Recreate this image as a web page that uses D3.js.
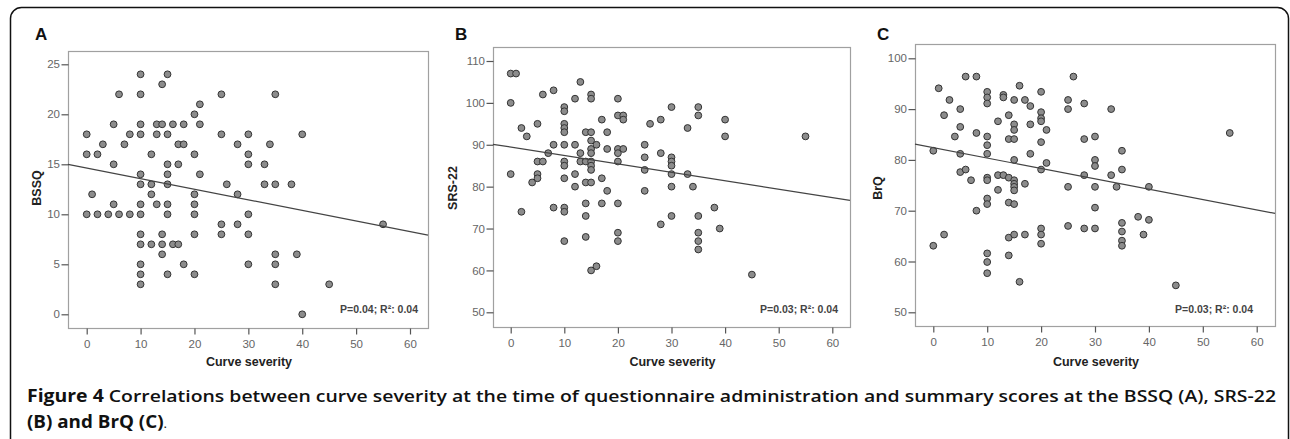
<!DOCTYPE html>
<html>
<head>
<meta charset="utf-8">
<script src="https://cdn.jsdelivr.net/npm/d3@7"></script>
<style>
  body { margin: 0; background: #fff; }
  svg { display: block; }
</style>
</head>
<body>
<div id="fig"></div>
<script>
var svgWidth = 1290;
var svgHeight = 439;

// curve severity (x) and scores (y)
var bssqX = [10,15,14,6,10,25,35,21,20,5,10,13,14,16,18,21,0,8,10,13,15,25,30,40,3,7,17,18,28,34,
  0,2,12,20,30,5,15,17,30,33,10,15,21,10,12,15,26,33,35,38,1,12,20,28,5,10,13,15,20,
  0,2,4,6,8,10,15,20,30,25,28,55,10,14,20,25,30,10,12,14,16,17,14,35,39,10,18,30,35,10,15,20,35,10,45,40];
var bssqY = [24,24,23,22,22,22,22,21,20,19,19,19,19,19,19,19,18,18,18,18,18,18,18,18,17,17,17,17,17,17,
  16,16,16,16,16,15,15,15,15,15,14,14,14,13,13,13,13,13,13,13,12,12,12,12,11,11,11,11,11,
  10,10,10,10,10,10,10,10,10,9,9,9,8,8,8,8,8,7,7,7,7,7,6,6,6,5,5,5,5,4,4,4,3,3,3,0];

var srsX = [0,1,0,2,3,0,5,5,6,4,5,5,6,8,7,8,10,10,10,10,10,10,10,10,10,12,12,12,12,13,13,13,14,14,14,
  15,15,15,15,15,15,15,15,15,15,16,17,17,18,18,18,20,20,21,21,20,20,20,21,25,25,25,25,26,28,28,
  30,30,30,30,30,30,33,33,34,35,35,40,40,55,
  2,8,10,10,14,17,20,14,10,14,15,16,20,20,28,30,35,35,35,35,38,39,45];
var srsY = [107,107,100,94,92,83,95,86,86,81,83,82,102,103,88,90,99,98,95,94,93,90,86,85,82,101,90,83,80,105,88,86,93,86,81,
  102,101,93,91,89,88,86,85,84,81,90,96,82,93,89,79,101,97,97,96,89,88,86,89,90,87,84,79,95,96,88,
  99,87,86,85,83,80,94,83,80,99,97,96,92,92,
  74,75,75,74,76,76,76,73,67,68,60,61,69,67,71,73,73,69,67,65,75,70,59];

var brqX = [0,1,2,3,4,5,5,5,5,6,6,7,8,8,8,10,10,10,10,10,10,10,10,10,10,12,12,12,13,13,13,14,14,14,14,
  15,15,15,15,15,15,15,15,15,15,16,17,17,18,18,18,20,20,20,20,20,20,21,21,25,25,25,26,28,28,28,
  30,30,30,30,30,33,33,34,35,35,40,55,
  0,2,10,10,10,14,14,15,16,17,20,20,20,25,28,30,35,35,35,35,38,39,40,45];
var brqY = [81.8,94.1,88.8,91.8,84.6,90,86.5,81.2,77.6,78.1,96.4,76,96.4,85.3,70,93.4,92.3,91.1,84.6,82.9,81.2,76.5,76,72.4,71.3,87.6,77,74.1,92.8,92.3,77,88.8,84.1,76.5,71.6,
  91.8,87,85.9,84.1,80,76,75.3,74.7,74,71.3,94.6,91.8,75.3,90.6,87,81.2,93.4,89.4,88.2,87.6,83.5,78.1,85.9,79.4,91.8,90,74.7,96.4,91.1,84.1,77,
  84.6,80,78.8,74.7,70.6,90,77,74.7,81.8,78.1,74.7,85.3,
  63.1,65.3,61.6,59.9,57.7,64.7,61.2,65.3,56,65.3,66.5,65.3,63.5,67,66.5,66.5,67.6,65.9,64.1,63.1,68.8,65.3,68.2,55.3];

// fitted lines: intercept, slope
var fitIntercept = [14.63, 89.45, 82.4];
var fitSlope = [-0.106, -0.201, -0.204];

var xTicks = [0, 10, 20, 30, 40, 50, 60];
var yTicksA = [0, 5, 10, 15, 20, 25];
var yTicksB = [50, 60, 70, 80, 90, 100, 110];
var yTicksC = [50, 60, 70, 80, 90, 100];

var panelLetters = ["A", "B", "C"];
var yTitles = ["BSSQ", "SRS-22", "BrQ"];
var statText = ["P=0.04; R\u00b2: 0.04", "P=0.03; R\u00b2: 0.04", "P=0.03; R\u00b2: 0.04"];

// layout of each panel (pixel geometry)
var panels = [
  {xs: bssqX, ys: bssqY, yTicks: yTicksA, yDom: [0, 25], x0: 86.7, x60: 410, yLo: 314.3, yHi: 64.3,
   left: 68, right: 428, top: 51, bottom: 328, letterX: 35, titleX: 41, statX: 418},
  {xs: srsX, ys: srsY, yTicks: yTicksB, yDom: [50, 110], x0: 510.7, x60: 832.3, yLo: 312.3, yHi: 61,
   left: 493, right: 850, top: 47, bottom: 327, letterX: 455, titleX: 457, statX: 838},
  {xs: brqX, ys: brqY, yTicks: yTicksC, yDom: [50, 100], x0: 933.3, x60: 1256.7, yLo: 312.3, yHi: 58.3,
   left: 915, right: 1275, top: 44, bottom: 326, letterX: 877, titleX: 882, statX: 1253}
];

var svg = d3.select("#fig")
  .append("svg")
  .attr("width", svgWidth)
  .attr("height", svgHeight);

// rounded outer border
svg.append("rect")
  .attr("x", 10.5).attr("y", 7.5)
  .attr("width", 1278).attr("height", 460)
  .attr("rx", 11)
  .attr("fill", "none")
  .attr("stroke", "#111")
  .attr("stroke-width", 1.5);

panels.forEach(function(p, i) {
  var xScale = d3.scaleLinear().domain([0, 60]).range([p.x0, p.x60]);
  var yScale = d3.scaleLinear().domain(p.yDom).range([p.yLo, p.yHi]);
  var g = svg.append("g");

  // frame
  g.append("rect")
    .attr("x", p.left + 0.5).attr("y", p.top + 0.5)
    .attr("width", p.right - p.left).attr("height", p.bottom - p.top)
    .attr("fill", "none")
    .attr("stroke", "#a0a0a0")
    .attr("stroke-width", 1.2);

  var xAxis = d3.axisBottom(xScale).tickValues(xTicks).tickSize(6).tickSizeOuter(0);
  var yAxis = d3.axisLeft(yScale).tickValues(p.yTicks).tickSize(7).tickSizeOuter(0);

  var gx = g.append("g")
    .attr("transform", `translate(0, ${p.bottom + 0.5})`)
    .call(xAxis);
  var gy = g.append("g")
    .attr("transform", `translate(${p.left + 0.5}, 0)`)
    .call(yAxis);

  [gx, gy].forEach(function(ax) {
    ax.select(".domain").remove();
    ax.selectAll("line").attr("stroke", "#555").attr("stroke-width", 1.2);
    ax.selectAll("text")
      .attr("fill", "#666")
      .attr("font-family", "Liberation Sans, Arial, sans-serif")
      .attr("font-size", 11.5);
  });
  gx.selectAll("text").attr("dy", "0.95em");
  gy.selectAll("text").attr("x", -8.5);

  // points
  g.append("g")
    .selectAll("circle")
    .data(p.xs.map((x, k) => [x, p.ys[k]]))
    .enter()
    .append("circle")
    .attr("cx", d => xScale(d[0]))
    .attr("cy", d => yScale(d[1]))
    .attr("r", 3.4)
    .attr("fill", "#8c8c8c")
    .attr("stroke", "#333")
    .attr("stroke-width", 1);

  // fit line across the frame
  var xa = xScale.invert(p.left), xb = xScale.invert(p.right);
  g.append("line")
    .attr("x1", p.left).attr("x2", p.right)
    .attr("y1", yScale(fitIntercept[i] + fitSlope[i] * xa))
    .attr("y2", yScale(fitIntercept[i] + fitSlope[i] * xb))
    .attr("stroke", "#444")
    .attr("stroke-width", 1.2);

  g.append("text")
    .attr("x", p.statX).attr("y", 312.5)
    .attr("text-anchor", "end")
    .attr("font-family", "Liberation Sans, Arial, sans-serif")
    .attr("font-weight", "bold")
    .attr("font-size", 10.5)
    .attr("fill", "#444")
    .text(statText[i]);

  g.append("text")
    .attr("x", (p.left + p.right) / 2 + 1).attr("y", 366)
    .attr("text-anchor", "middle")
    .attr("font-family", "Liberation Sans, Arial, sans-serif")
    .attr("font-weight", "bold")
    .attr("font-size", 12.5)
    .attr("fill", "#222")
    .text("Curve severity");

  g.append("text")
    .attr("transform", `translate(${p.titleX}, 188) rotate(-90)`)
    .attr("text-anchor", "middle")
    .attr("font-family", "Liberation Sans, Arial, sans-serif")
    .attr("font-weight", "bold")
    .attr("font-size", 12.5)
    .attr("fill", "#222")
    .text(yTitles[i]);

  g.append("text")
    .attr("x", p.letterX).attr("y", 40)
    .attr("font-family", "Liberation Sans, Arial, sans-serif")
    .attr("font-weight", "bold")
    .attr("font-size", 17)
    .attr("fill", "#111")
    .text(panelLetters[i]);
});

// caption
var cap1 = svg.append("text")
  .attr("x", 27).attr("y", 402)
  .attr("font-family", "Open Sans, Noto Sans, sans-serif")
  .attr("font-size", 17)
  .attr("font-weight", "bold")
  .attr("fill", "#111")
  .attr("textLength", 1249)
  .attr("lengthAdjust", "spacingAndGlyphs");
cap1.append("tspan").text("Figure 4 ");
cap1.append("tspan").attr("font-weight", 600)
  .text("Correlations between curve severity at the time of questionnaire administration and summary scores at the BSSQ (A), SRS-22");

var cap2 = svg.append("text")
  .attr("x", 27).attr("y", 428)
  .attr("font-family", "Open Sans, Noto Sans, sans-serif")
  .attr("font-size", 17)
  .attr("font-weight", "bold")
  .attr("fill", "#111")
  .attr("textLength", 140)
  .attr("lengthAdjust", "spacingAndGlyphs");
cap2.append("tspan").text("(B) and BrQ (C)");
cap2.append("tspan").attr("font-weight", "normal").attr("font-size", 12).text(".");
</script>
</body>
</html>
